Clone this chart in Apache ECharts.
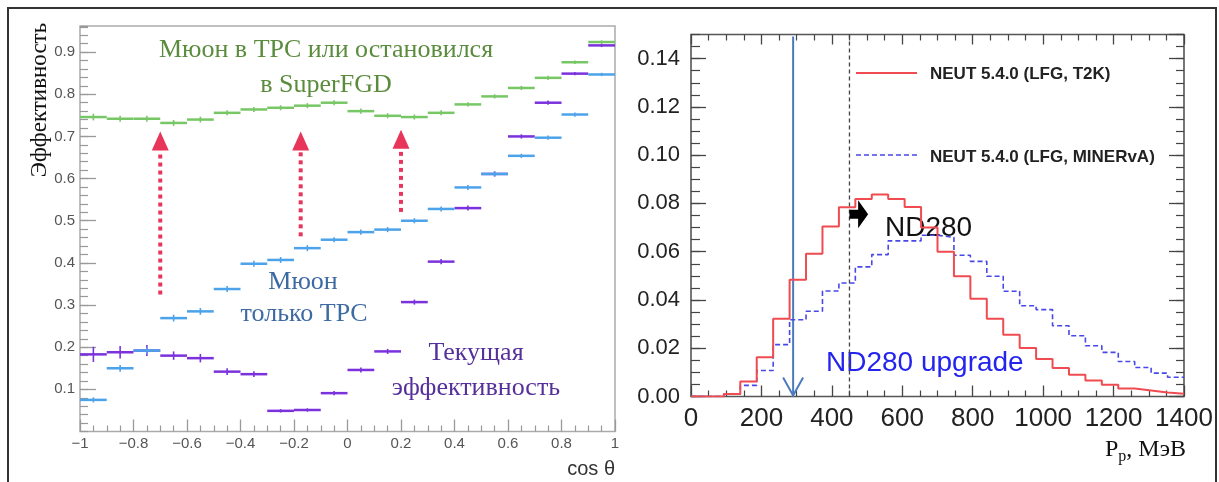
<!DOCTYPE html>
<html><head><meta charset="utf-8">
<script src="https://cdn.jsdelivr.net/npm/echarts@6/dist/echarts.min.js"></script>
<style>html,body{margin:0;padding:0;background:#fff}#c{width:1219px;height:482px}</style>
</head><body><div id="c"></div>
<script>
// ---------- Left panel: efficiency vs cos theta ----------
const cosCenters = [-0.95,-0.85,-0.75,-0.65,-0.55,-0.45,-0.35,-0.25,-0.15,-0.05,0.05,0.15,0.25,0.35,0.45,0.55,0.65,0.75,0.85,0.95];
const cosHalfBin = 0.05;
const greenEff  = [0.746,0.742,0.742,0.732,0.740,0.756,0.764,0.768,0.773,0.780,0.760,0.749,0.746,0.756,0.776,0.795,0.815,0.839,0.876,0.924];
const greenErr  = [0.008,0.007,0.007,0.007,0.007,0.006,0.006,0.006,0.006,0.006,0.006,0.006,0.006,0.006,0.005,0.005,0.005,0.005,0.004,0.004];
const blueEff   = [0.075,0.150,0.192,0.269,0.285,0.338,0.398,0.407,0.435,0.455,0.473,0.479,0.500,0.528,0.579,0.611,0.654,0.697,0.752,0.847];
const blueErr   = [0.006,0.008,0.008,0.008,0.008,0.007,0.007,0.007,0.007,0.006,0.006,0.006,0.006,0.006,0.006,0.006,0.005,0.005,0.005,0.004];
const purpleEff = [0.183,0.188,0.192,0.180,0.174,0.142,0.136,0.049,0.051,0.091,0.146,0.190,0.307,0.403,0.530,0.611,0.700,0.780,0.849,0.916];
const purpleErr = [0.018,0.015,0.013,0.010,0.010,0.008,0.007,0.004,0.004,0.005,0.006,0.006,0.006,0.006,0.006,0.006,0.005,0.005,0.004,0.004];
const effTicks  = [0.1,0.2,0.3,0.4,0.5,0.6,0.7,0.8,0.9];
const arrowX    = [-0.70,-0.175,0.20];
const arrowFrom = [0.325,0.463,0.521];
const arrowTo   = [0.712,0.712,0.716];

// ---------- Right panel: proton momentum histogram ----------
const pRange = [0, 1400];
const pBins = 30;
const redT2K = [0,0,0.001,0.0062,0.0163,0.0322,0.0484,0.0592,0.0704,0.0784,0.0818,0.0837,0.0818,0.0785,0.0700,
                0.0600,0.0498,0.0405,0.0322,0.0256,0.0201,0.0155,0.0118,0.0090,0.0066,0.0049,0.0033,0.0025,0.0017,0.0011];
const blueMinerva = [0,0,0.001,0.0046,0.0108,0.0215,0.0318,0.0353,0.0437,0.0470,0.0537,0.0588,0.0645,0.0645,0.0668,
                0.0660,0.0585,0.0560,0.0498,0.0436,0.0376,0.0360,0.0293,0.0252,0.0210,0.0183,0.0145,0.0120,0.0097,0.0080];
const pYMax = 0.15;
const upgradeCut = 290;   // ND280 upgrade threshold (MeV)
const nd280Cut = 450;     // ND280 threshold (MeV)
const nd280ArrowY = 0.0755;
const nd280ArrowTip = 503;

const binW = (pRange[1]-pRange[0])/pBins;
function histPoints(vals){
  const pts = vals.map((v,i)=>[pRange[0]+i*binW, v]);
  pts.push([pRange[1], vals[vals.length-1]]);
  return pts;
}

const chart = echarts.init(document.getElementById('c'), null, {renderer:'canvas'});
const SANS = 'Liberation Sans, Arial, sans-serif';
const SERIF = 'Liberation Serif, Times New Roman, serif';

function binSeries(name, vals, errs, color){
  return {
    type:'custom', name, xAxisIndex:0, yAxisIndex:0, clip:false,
    data: cosCenters.map((c,i)=>[c, vals[i], errs[i]]),
    renderItem(params, api){
      const c=api.value(0), v=api.value(1), e=api.value(2);
      const a=api.coord([c-cosHalfBin, v]), b=api.coord([c+cosHalfBin, v]);
      const t=api.coord([c, v+e]), d=api.coord([c, v-e]);
      return {type:'group', children:[
        {type:'line', shape:{x1:a[0],y1:a[1],x2:b[0],y2:b[1]}, style:{stroke:color, lineWidth:2.5}},
        {type:'line', shape:{x1:t[0],y1:t[1],x2:d[0],y2:d[1]}, style:{stroke:color, lineWidth:1.6}}
      ]};
    }
  };
}

const leftTickCol = '#999';
const rightTickCol = '#444';

const option = {
  animation:false,
  backgroundColor:'#fff',
  grid:[
    {left:80, top:26, width:535, height:405.5, show:true, borderColor:'#aaa', borderWidth:1.5},
    {left:691, top:34.5, width:493, height:362, show:true, borderColor:'#555', borderWidth:1.6}
  ],
  xAxis:[
    {gridIndex:0, type:'value', min:-1, max:1, interval:0.2, position:'bottom',
     axisLine:{show:false, onZero:false}, splitLine:{show:false},
     axisTick:{inside:true, length:12, lineStyle:{color:leftTickCol, width:1.3}},
     minorTick:{show:true, splitNumber:4, length:6, lineStyle:{color:leftTickCol, width:1.2}},
     axisLabel:{margin:5, color:'#555', fontSize:15, fontFamily:SANS,
       formatter:v=>{const s = Math.abs(v)<1e-9 ? '0' : String(+v.toFixed(1)); return s.replace('-','−');}}},
    {gridIndex:1, type:'value', min:pRange[0], max:pRange[1], interval:200, position:'bottom',
     axisLine:{show:false, onZero:false}, splitLine:{show:false},
     axisTick:{inside:true, length:11, lineStyle:{color:rightTickCol, width:1.3}},
     minorTick:{show:true, splitNumber:4, length:6, lineStyle:{color:rightTickCol, width:1.2}},
     axisLabel:{margin:9, color:'#222', fontSize:26, fontFamily:SANS, formatter:v=>String(Math.round(v))}},
    {gridIndex:1, type:'value', min:pRange[0], max:pRange[1], interval:200, position:'top',
     axisLine:{show:false, onZero:false}, splitLine:{show:false},
     axisTick:{inside:true, length:10, lineStyle:{color:rightTickCol, width:1.3}},
     minorTick:{show:true, splitNumber:4, length:6, lineStyle:{color:rightTickCol, width:1.2}},
     axisLabel:{show:false}}
  ],
  yAxis:[
    {gridIndex:0, type:'value', min:0, max:0.962, interval:0.1, position:'left',
     axisLine:{show:false, onZero:false}, splitLine:{show:false},
     axisTick:{inside:true, length:16, lineStyle:{color:leftTickCol, width:1.3}},
     axisLabel:{margin:5, color:'#555', fontSize:15, fontFamily:SANS, showMinLabel:false, showMaxLabel:false,
       formatter:v=> effTicks.some(t=>Math.abs(t-v)<1e-6) ? v.toFixed(1) : ''}},
    {gridIndex:0, type:'value', min:0, max:0.962, interval:0.02, position:'left',
     axisLine:{show:false, onZero:false}, splitLine:{show:false},
     axisTick:{inside:true, length:8, lineStyle:{color:leftTickCol, width:1.2}},
     axisLabel:{show:false}},
    {gridIndex:1, type:'value', min:0, max:pYMax, interval:0.02, position:'left',
     axisLine:{show:false, onZero:false}, splitLine:{show:false},
     axisTick:{inside:true, length:15, lineStyle:{color:rightTickCol, width:1.3}},
     axisLabel:{margin:11, color:'#222', fontSize:22, fontFamily:SANS, showMaxLabel:false,
       formatter:v=>v.toFixed(2)}},
    {gridIndex:1, type:'value', min:0, max:pYMax, interval:0.005, position:'left',
     axisLine:{show:false, onZero:false}, splitLine:{show:false},
     axisTick:{inside:true, length:9, lineStyle:{color:rightTickCol, width:1.2}},
     axisLabel:{show:false}},
    {gridIndex:1, type:'value', min:0, max:pYMax, interval:0.02, position:'right',
     axisLine:{show:false, onZero:false}, splitLine:{show:false},
     axisTick:{inside:true, length:15, lineStyle:{color:rightTickCol, width:1.3}},
     axisLabel:{show:false}},
    {gridIndex:1, type:'value', min:0, max:pYMax, interval:0.005, position:'right',
     axisLine:{show:false, onZero:false}, splitLine:{show:false},
     axisTick:{inside:true, length:8, lineStyle:{color:rightTickCol, width:1.2}},
     axisLabel:{show:false}}
  ],
  series:[
    binSeries('Текущая эффективность', purpleEff, purpleErr, '#7b32dc'),
    binSeries('Мюон только TPC', blueEff, blueErr, '#4da3ea'),
    binSeries('Мюон в TPC или остановился в SuperFGD', greenEff, greenErr, '#78c766'),
    {type:'custom', name:'arrows', xAxisIndex:0, yAxisIndex:0, clip:false,
     data: arrowX.map((x,i)=>[x, arrowFrom[i], arrowTo[i]]),
     renderItem(p, api){
       const x=api.value(0); const b=api.coord([x, api.value(1)]); const t=api.coord([x, api.value(2)]);
       const hh=19, hw=17, col='#e8365a';
       return {type:'group', children:[
         {type:'line', shape:{x1:b[0],y1:b[1],x2:t[0],y2:t[1]+hh}, style:{stroke:col, lineWidth:4, lineDash:[4,4]}},
         {type:'polygon', shape:{points:[[t[0],t[1]],[t[0]-hw/2,t[1]+hh],[t[0]+hw/2,t[1]+hh]]}, style:{fill:col}}
       ]};
     }},
    {type:'line', name:'NEUT 5.4.0 (LFG, MINERvA)', xAxisIndex:1, yAxisIndex:2, step:'end',
     data:histPoints(blueMinerva), symbol:'none', lineStyle:{color:'#4848e8', width:1.6, type:[5,3]}},
    {type:'line', name:'NEUT 5.4.0 (LFG, T2K)', xAxisIndex:1, yAxisIndex:2, step:'end',
     data:histPoints(redT2K), symbol:'none', lineStyle:{color:'#ef4b50', width:2}},
    {type:'custom', name:'cuts', xAxisIndex:1, yAxisIndex:2, clip:false,
     data:[[upgradeCut, 0], [nd280Cut, 1]],
     renderItem(p, api){
       const x=api.value(0), kind=api.value(1);
       const top=api.coord([x, pYMax]), bot=api.coord([x, 0]);
       if(kind===0){
         return {type:'group', children:[
           {type:'line', shape:{x1:top[0],y1:top[1]+2,x2:bot[0],y2:bot[1]-1}, style:{stroke:'#4b7bbd', lineWidth:2}},
           {type:'polyline', shape:{points:[[bot[0]-10,bot[1]-19],[bot[0],bot[1]-1],[bot[0]+10,bot[1]-19]]}, style:{stroke:'#4b7bbd', lineWidth:2, fill:null}}
         ]};
       }
       return {type:'line', shape:{x1:top[0],y1:top[1],x2:bot[0],y2:bot[1]}, style:{stroke:'#444', lineWidth:1.3, lineDash:[4,3]}};
     }},
    {type:'custom', name:'nd280arrow', xAxisIndex:1, yAxisIndex:2, clip:false,
     data:[[nd280Cut, nd280ArrowY, nd280ArrowTip]],
     renderItem(p, api){
       const s=api.coord([api.value(0), api.value(1)]); const tip=api.coord([api.value(2), api.value(1)]);
       const mid = tip[0]-10;
       return {type:'polygon', shape:{points:[[s[0],s[1]-4.5],[mid,s[1]-4.5],[mid,s[1]-14],[tip[0],s[1]],[mid,s[1]+14],[mid,s[1]+4.5],[s[0],s[1]+4.5]]}, style:{fill:'#000'}};
     }}
  ],
  graphic:[
    {type:'rect', shape:{x:8, y:8, width:1208, height:500}, style:{fill:null, stroke:'#333', lineWidth:2}, silent:true},
    // left texts
    {type:'text', x:40, y:100, rotation:Math.PI/2, style:{text:'Эффективность', font:'23px '+SERIF, fill:'#111', align:'center', verticalAlign:'middle'}},
    {type:'text', x:326, y:50, style:{text:'Мюон в TPC или остановился', font:'26px '+SERIF, fill:'#5b8c3e', align:'center', verticalAlign:'middle'}},
    {type:'text', x:326, y:85, style:{text:'в SuperFGD', font:'26px '+SERIF, fill:'#5b8c3e', align:'center', verticalAlign:'middle'}},
    {type:'text', x:303, y:282, style:{text:'Мюон', font:'26px '+SERIF, fill:'#3d6aa3', align:'center', verticalAlign:'middle'}},
    {type:'text', x:304, y:314, style:{text:'только TPC', font:'26px '+SERIF, fill:'#3d6aa3', align:'center', verticalAlign:'middle'}},
    {type:'text', x:476, y:353, style:{text:'Текущая', font:'26px '+SERIF, fill:'#55309a', align:'center', verticalAlign:'middle'}},
    {type:'text', x:476, y:388, style:{text:'эффективность', font:'26px '+SERIF, fill:'#55309a', align:'center', verticalAlign:'middle'}},
    {type:'text', x:615, y:469, style:{text:'cos θ', font:'20px '+SANS, fill:'#333', align:'right', verticalAlign:'middle'}},
    // right texts
    {type:'line', shape:{x1:856, y1:73, x2:917, y2:73}, style:{stroke:'#ef4b50', lineWidth:2}},
    {type:'text', x:930, y:74, style:{text:'NEUT 5.4.0 (LFG, T2K)', font:'bold 17px '+SANS, fill:'#222', align:'left', verticalAlign:'middle'}},
    {type:'line', shape:{x1:856, y1:155, x2:917, y2:155}, style:{stroke:'#4848e8', lineWidth:1.6, lineDash:[5,3]}},
    {type:'text', x:930, y:157, style:{text:'NEUT 5.4.0 (LFG, MINERvA)', font:'bold 17px '+SANS, fill:'#222', align:'left', verticalAlign:'middle'}},
    {type:'text', x:885, y:228, style:{text:'ND280', font:'28px '+SANS, fill:'#111', align:'left', verticalAlign:'middle'}},
    {type:'text', x:826, y:363, style:{text:'ND280 upgrade', font:'28px '+SANS, fill:'#2424ee', align:'left', verticalAlign:'middle'}},
    {type:'text', x:1105, y:450, style:{text:'{a|P}{b|p}{a|, МэВ}', align:'left', verticalAlign:'middle',
      rich:{a:{font:'24px '+SERIF, fill:'#111'}, b:{font:'16px '+SERIF, fill:'#111', padding:[14,0,0,0]}}}}
  ]
};
chart.setOption(option);
</script></body></html>
